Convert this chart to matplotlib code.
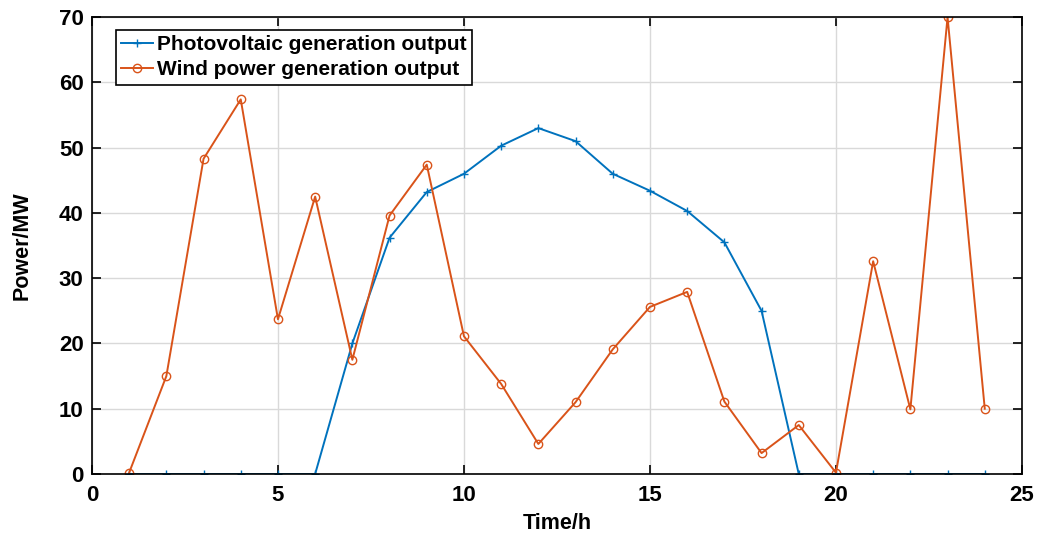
import numpy as np
import matplotlib.pyplot as plt

plt.rcParams['font.family'] = 'Liberation Sans'
plt.rcParams['font.weight'] = 'bold'

hours = np.arange(1, 25)
pv_output = [0, 0, 0, 0, 0, 0, 20.0, 36.2, 43.2, 46.0, 50.3, 53.0,
             51.0, 46.0, 43.4, 40.3, 35.5, 25.0, 0, 0, 0, 0, 0, 0]
wind_output = [0.2, 15.0, 48.3, 57.4, 23.7, 42.5, 17.5, 39.6, 47.4, 21.1, 13.8, 4.6,
               11.0, 19.1, 25.6, 27.9, 11.1, 3.2, 7.5, 0.2, 32.6, 9.9, 70.0, 10.0]

fig = plt.figure(figsize=(10.39, 5.36), dpi=100)
ax = fig.add_axes([0.0885, 0.1157, 0.8951, 0.8523])

ax.plot(hours, pv_output, color='#0072BD', marker='+', markersize=6,
        linewidth=1.4, label='Photovoltaic generation output')
ax.plot(hours, wind_output, color='#D95319', marker='o', markersize=6,
        markerfacecolor='none', linewidth=1.4, label='Wind power generation output')

ax.set_xlim(0, 25)
ax.set_ylim(0, 70)
ax.set_xticks([0, 5, 10, 15, 20, 25])
ax.set_yticks(np.arange(0, 71, 10))
ax.grid(True, color='#d9d9d9', linewidth=1.0)
ax.set_axisbelow(True)
ax.tick_params(direction='in', top=True, right=True, length=6.5, width=1.2,
               labelsize=16)
ax.tick_params(axis='x', pad=8)
ax.tick_params(axis='y', pad=6)
for s in ax.spines.values():
    s.set_linewidth(1.2)

ax.set_xlabel('Time/h', fontsize=15.5, fontweight='bold', labelpad=5)
ax.set_ylabel('Power/MW', fontsize=15.5, fontweight='bold', labelpad=19)

leg = ax.legend(loc='upper left', bbox_to_anchor=(0.026, 0.972), fontsize=15,
                frameon=True, fancybox=False, edgecolor='black', framealpha=1,
                handlelength=1.5, handletextpad=0.2, borderpad=0.25, labelspacing=0.3,
                borderaxespad=0)
leg.get_frame().set_linewidth(1.2)

fig.savefig('out.png', dpi=100)
